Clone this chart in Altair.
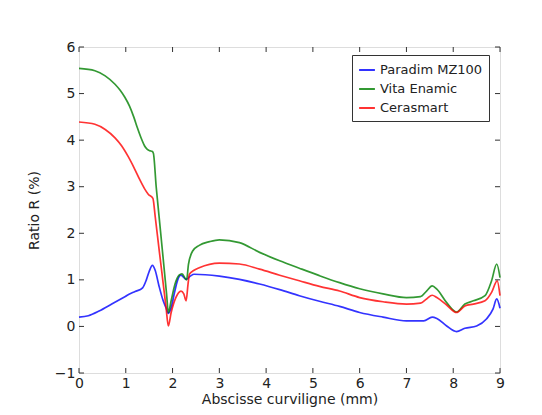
import altair as alt
import pandas as pd

series_names = ["Paradim MZ100", "Vita Enamic", "Cerasmart"]
series_colors = ["#0000ff", "#008000", "#ff0000"]

blue_x = [0, 0.2, 0.43, 0.7, 1.0, 1.07, 1.2, 1.36, 1.44, 1.5, 1.57, 1.63, 1.71, 1.8, 1.86, 1.91,
          1.97, 2.04, 2.11, 2.18, 2.29, 2.38, 2.46, 2.7, 3.0, 3.43, 3.86, 4.29, 4.71, 5.14, 5.57,
          6.0, 6.5, 7.0, 7.37, 7.55, 7.65, 7.86, 8.07, 8.25, 8.5, 8.71, 8.85, 8.93, 9.0]
blue_y = [0.2, 0.23, 0.33, 0.48, 0.65, 0.69, 0.75, 0.83, 1.0, 1.18, 1.31, 1.2, 0.87, 0.55, 0.4, 0.28,
          0.4, 0.72, 1.0, 1.1, 1.01, 1.08, 1.12, 1.11, 1.08, 1.01, 0.91, 0.79, 0.66, 0.54, 0.43,
          0.30, 0.2, 0.12, 0.12, 0.2, 0.17, 0.01, -0.11, -0.04, 0.01, 0.16, 0.37, 0.59, 0.39]

green_x = [0, 0.34, 0.56, 0.77, 0.88, 0.98, 1.08, 1.17, 1.25, 1.33, 1.4, 1.46, 1.52, 1.56, 1.59, 1.65,
           1.71, 1.8, 1.87, 1.91,
           1.97, 2.05, 2.14, 2.2, 2.3, 2.34, 2.43, 2.57, 2.79, 3.0, 3.43, 3.86, 4.29, 4.71, 5.14, 5.57,
           6.0, 6.5, 7.0, 7.3, 7.43, 7.55, 7.65, 7.86, 8.07, 8.25, 8.43, 8.68, 8.82, 8.93, 9.0]
green_y = [5.54, 5.49, 5.38, 5.2, 5.07, 4.92, 4.73, 4.5, 4.26, 4.04, 3.88, 3.8, 3.77, 3.76, 3.72, 3.0,
           2.38, 1.45, 0.72, 0.3,
           0.55, 0.9, 1.1, 1.13, 1.0, 1.33, 1.62, 1.74, 1.82, 1.86, 1.80, 1.59, 1.41, 1.25, 1.09, 0.94,
           0.81, 0.7, 0.62, 0.64, 0.76, 0.87, 0.8, 0.51, 0.31, 0.48, 0.55, 0.66, 0.98, 1.34, 1.05]

red_x = [0, 0.34, 0.56, 0.77, 0.91, 1.05, 1.19, 1.3, 1.4, 1.48, 1.58, 1.63, 1.71, 1.8, 1.86, 1.91,
         1.97, 2.07, 2.18, 2.24, 2.29, 2.33, 2.36, 2.45, 2.57, 3.0, 3.43, 3.86, 4.29, 4.71, 5.14, 5.57,
         6.0, 6.5, 7.0, 7.3, 7.43, 7.55, 7.65, 7.86, 8.07, 8.25, 8.43, 8.68, 8.82, 8.94, 9.0]
red_y = [4.39, 4.34, 4.23, 4.05, 3.88, 3.65, 3.38, 3.15, 2.96, 2.84, 2.75, 2.35, 1.67, 0.92, 0.42, 0.01,
         0.3, 0.62, 0.76, 0.7, 0.55, 0.9, 1.12, 1.2, 1.26, 1.36, 1.34, 1.23, 1.1, 0.98, 0.86, 0.76,
         0.62, 0.53, 0.48, 0.5, 0.59, 0.67, 0.62, 0.46, 0.3, 0.44, 0.48, 0.55, 0.73, 0.98, 0.66]

x_ticks = [0, 1, 2, 3, 4, 5, 6, 7, 8, 9]
y_ticks = [-1, 0, 1, 2, 3, 4, 5, 6]

W, H = 421, 326

rows = []
for name, xs, ys in zip(series_names, [blue_x, green_x, red_x], [blue_y, green_y, red_y]):
    for i, (a, b) in enumerate(zip(xs, ys)):
        rows.append({"serie": name, "x": a, "y": b, "i": i})
df = pd.DataFrame(rows)

xscale = alt.Scale(domain=[0, 9], nice=False, zero=False)
yscale = alt.Scale(domain=[-1, 6], nice=False, zero=False)

xaxis = alt.Axis(values=x_ticks, title="Abscisse curviligne (mm)", grid=False,
                 domain=False, ticks=False, labelFontSize=14, labelPadding=3,
                 titleFontSize=14, titleFontWeight="normal", titlePadding=2,
                 labelColor="#222", titleColor="#222", labelFont="DejaVu Sans",
                 titleFont="DejaVu Sans", labelFlush=False)
yaxis = alt.Axis(values=y_ticks, title="Ratio R (%)", grid=False,
                 domain=False, ticks=False, labelFontSize=14, labelPadding=4,
                 titleFontSize=14, titleFontWeight="normal", titlePadding=13,
                 labelColor="#222", titleColor="#222", labelFont="DejaVu Sans",
                 titleFont="DejaVu Sans", labelFlush=False)

lines = alt.Chart(df).mark_line(strokeWidth=1.7, opacity=0.8, interpolate="monotone").encode(
    x=alt.X("x:Q", scale=xscale, axis=xaxis),
    y=alt.Y("y:Q", scale=yscale, axis=yaxis),
    color=alt.Color("serie:N", scale=alt.Scale(domain=series_names, range=series_colors),
                    legend=alt.Legend(title=None, orient="none", legendX=273, legendY=8,
                                      strokeColor="#333", fillColor="white", padding=6,
                                      symbolType="stroke", symbolStrokeWidth=2, symbolSize=250,
                                      labelFontSize=13, labelFont="DejaVu Sans",
                                      labelColor="#222", rowPadding=3, cornerRadius=0,
                                      symbolOpacity=0.8)),
    order="i:Q",
)

xt = pd.DataFrame({"t": x_ticks})
yt = pd.DataFrame({"t": y_ticks})
tick_color = "#333"

xb = alt.Chart(xt).mark_rule(color=tick_color, strokeWidth=1).encode(
    x=alt.X("t:Q", scale=xscale, axis=xaxis), y=alt.value(H), y2=alt.value(H - 5))
xtop = alt.Chart(xt).mark_rule(color=tick_color, strokeWidth=1).encode(
    x=alt.X("t:Q", scale=xscale, axis=xaxis), y=alt.value(0), y2=alt.value(5))
yl = alt.Chart(yt).mark_rule(color=tick_color, strokeWidth=1).encode(
    y=alt.Y("t:Q", scale=yscale, axis=yaxis), x=alt.value(0), x2=alt.value(5))
yr = alt.Chart(yt).mark_rule(color=tick_color, strokeWidth=1).encode(
    y=alt.Y("t:Q", scale=yscale, axis=yaxis), x=alt.value(W), x2=alt.value(W - 5))

chart = alt.layer(lines, xb, xtop, yl, yr).properties(
    width=W, height=H,
    autosize=alt.AutoSizeParams(type="none"),
    padding={"left": 71, "top": 39, "right": 34, "bottom": 40},
).configure_view(stroke="#333", strokeWidth=1.2).configure(background="white")

chart.save("out.html", embed_options={"renderer": "svg", "actions": False})
